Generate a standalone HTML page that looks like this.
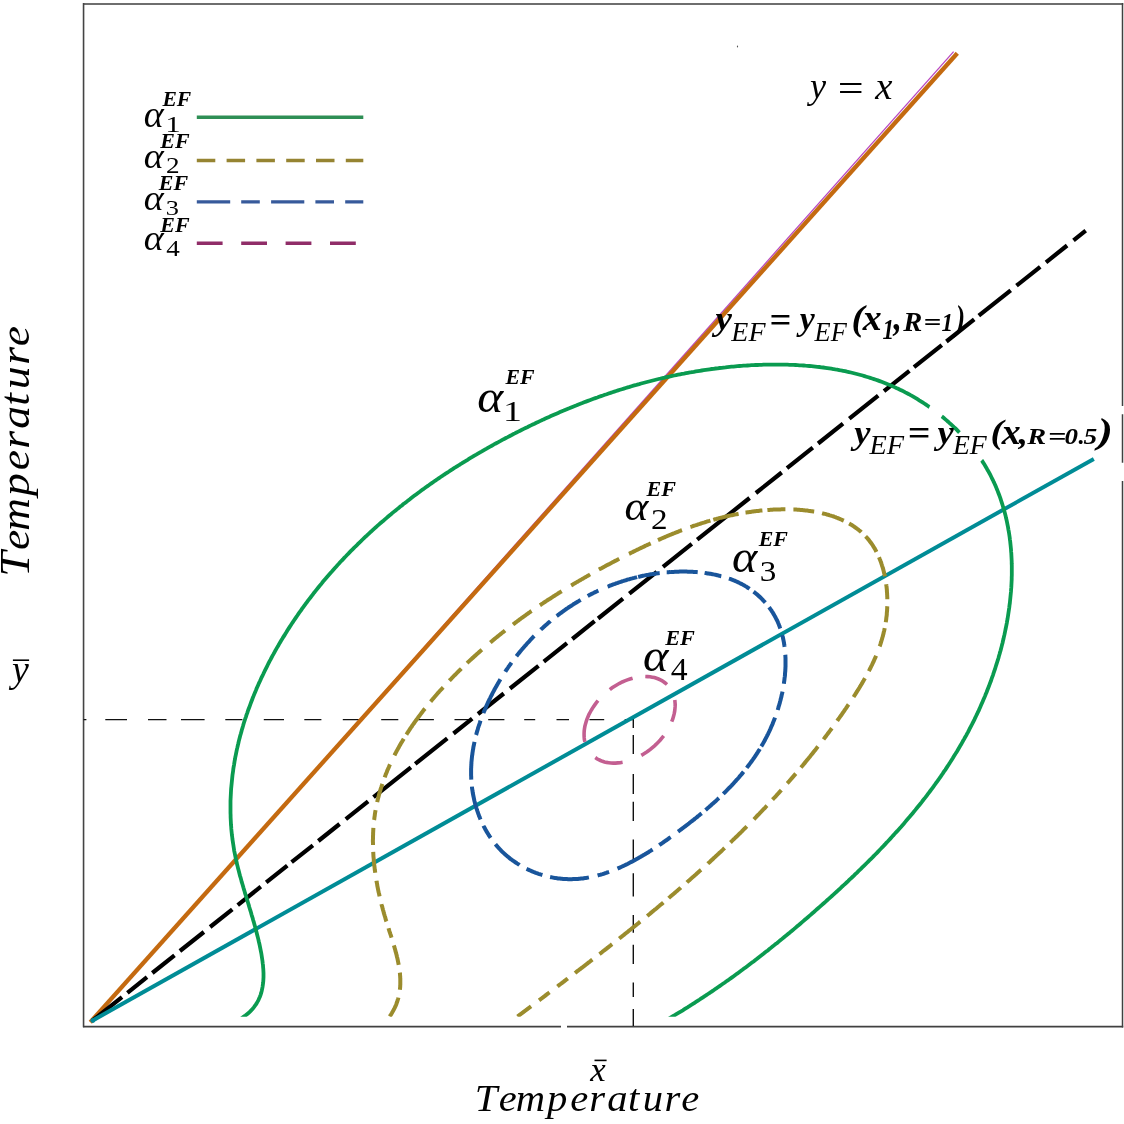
<!DOCTYPE html>
<html><head><meta charset="utf-8"><style>
html,body{margin:0;padding:0;background:#fff;width:1124px;height:1124px;overflow:hidden}
svg{position:absolute;left:0;top:0}
text{font-kerning:none}
</style></head><body>
<svg width="1124" height="1124" viewBox="0 0 1124 1124">
<defs><mask id="gmask" maskUnits="userSpaceOnUse" x="0" y="0" width="1124" height="1124"><rect width="1124" height="1124" fill="#fff"/><polygon points="931,404 944,413 940,419 928,410" fill="#000"/><polygon points="962,430 984,458 978,464 956,436" fill="#000"/></mask><clipPath id="plotclip"><rect x="84" y="5" width="1038" height="1011.7"/></clipPath></defs>
<line x1="83" y1="3.95" x2="1123.2" y2="3.95" stroke="#6e6e6e" stroke-width="1.9"/>
<line x1="83.55" y1="3" x2="83.55" y2="1027.3" stroke="#444" stroke-width="1.6"/>
<path d="M1122.5,3 V405.9 M1122.5,414.2 V462.7 M1122.5,481 V1027.4" stroke="#404040" stroke-width="1.5" fill="none"/>
<path d="M83,1026.6 H561 M567,1026.6 H1123.2" stroke="#404040" stroke-width="1.6" fill="none"/>
<ellipse cx="737.5" cy="46.5" rx="0.6" ry="1.1" fill="#555"/>
<path d="M83.5,719.6H86.4M105.3,719.6H127M148,719.6H166.5M181,719.6H204.6M225.3,719.6H242.4M263.8,719.6H284M304.3,719.6H321.4M342.8,719.6H361.3M381.2,719.6H398.3M418.2,719.6H433.9M454.5,719.6H470.9M488.2,719.6H504.4M524.2,719.6H535.2M556.5,719.6H569M589.5,719.6H604.2M624.7,719.6H634M633.3,719V728M633.3,735V754M633.3,774V794M633.3,801.7V821M633.3,839.5V862M633.3,873.3V896.5M633.3,915V932.7M633.3,944.7V964M633.3,982.4V996.9M633.3,1009V1026" stroke="#111" stroke-width="1.4" fill="none"/>
<line x1="92.3" y1="1020.7" x2="953.6" y2="51.6" stroke="#b848c0" stroke-width="1.3"/>
<line x1="90.3" y1="1022.2" x2="957.3" y2="53.3" stroke="#c46a10" stroke-width="4.3"/>
<path d="M92.3,1020.7L122.0,997.1M127.4,992.8L147.0,977.2M152.3,973.0L174.5,955.3M179.9,951.0L203.9,932.0M210.1,927.0L232.3,909.4M237.7,905.1L260.8,886.7M266.2,882.4L287.3,865.6M291.6,862.2L312.9,845.3M318.3,841.0L339.6,824.0M345.8,819.1L368.1,801.4M373.5,797.1L410.9,767.3M415.2,763.9L447.3,738.4M453.5,733.5L472.2,718.6M478.0,714.0L503.8,693.5M510.0,688.5L538.5,665.9M543.8,661.6L567.0,643.2M572.3,639.0L594.6,621.2M598.1,618.5L623.0,598.7M629.3,593.7L656.8,571.8M663.0,566.9L691.8,543.9M697.2,539.7L749.6,498.0M755.9,493.0L781.7,472.5M787.0,468.2L812.8,447.7M818.1,443.5L843.0,423.7M849.3,418.7L878.2,395.7M884.0,391.1L909.4,370.9M914.0,367.2L941.8,345.1M946.4,341.5L974.2,319.4M978.8,315.7L1010.7,290.3M1016.5,285.7L1040.2,266.9M1046.0,262.3L1067.1,245.5M1073.5,240.4L1085.7,230.7" stroke="#000" stroke-width="4.2" fill="none"/>
<line x1="92.3" y1="1020.7" x2="1093.8" y2="458.9" stroke="#008c96" stroke-width="4"/>
<circle cx="92.8" cy="1020.6" r="2.4" fill="#00899a"/>
<g clip-path="url(#plotclip)"><path d="M239.8,1019.7L243.8,1016.6L245.4,1015.5L247.0,1014.2L248.5,1013.0L250.0,1011.6L251.4,1010.2L252.7,1008.7L254.0,1007.1L255.2,1005.5L256.3,1003.9L257.3,1002.1L258.3,1000.4L259.1,998.6L259.9,996.7L260.6,994.8L261.2,992.9L261.7,991.0L262.1,989.1L262.5,987.1L262.8,985.1L263.1,983.1L263.3,981.1L263.4,979.1L263.5,977.1L263.5,975.1L263.5,973.1L263.4,971.1L263.3,969.1L263.1,967.1L263.0,965.1L262.7,963.2L262.5,961.2L262.2,959.2L261.9,957.2L261.6,955.2L261.3,953.3L260.9,951.3L260.5,949.3L260.1,947.4L259.7,945.4L259.3,943.5L258.8,941.5L258.4,939.6L257.9,937.6L257.4,935.7L256.9,933.7L256.4,931.8L255.9,929.9L255.4,927.9L254.9,926.0L254.3,924.1L253.8,922.1L253.2,920.2L252.7,918.3L252.1,916.4L251.5,914.5L251.0,912.5L250.4,910.6L249.8,908.7L249.2,906.8L248.7,904.9L248.1,903.0L247.5,901.0L246.9,899.1L246.3,897.2L245.7,895.3L245.1,893.4L244.6,891.5L244.0,889.6L243.4,887.6L242.9,885.7L242.3,883.8L241.7,881.9L241.2,879.9L240.7,878.0L240.1,876.1L239.6,874.2L239.1,872.2L238.6,870.3L238.1,868.4L237.6,866.4L237.1,864.5L236.7,862.5L236.2,860.6L235.8,858.6L235.4,856.7L235.0,854.7L234.6,852.7L234.2,850.8L233.9,848.8L233.6,846.8L233.3,844.8L233.0,842.9L232.7,840.9L232.4,838.9L232.2,836.9L231.9,834.9L231.7,832.9L231.5,830.9L231.3,828.9L231.2,826.9L231.0,825.0L230.9,823.0L230.8,821.0L230.7,819.0L230.6,817.0L230.6,815.0L230.5,813.0L230.5,811.0L230.5,809.0L230.5,807.0L230.5,805.0L230.5,803.0L230.5,800.9L230.6,798.9L230.7,796.9L230.8,794.9L230.9,793.0L231.0,791.0L231.1,789.0L231.3,787.0L231.5,785.0L231.7,783.0L231.9,781.0L232.1,779.0L232.3,777.0L232.5,775.0L232.8,773.0L233.1,771.1L233.3,769.1L233.6,767.1L234.0,765.1L234.3,763.1L234.6,761.2L235.0,759.2L235.3,757.2L235.7,755.3L236.1,753.3L236.5,751.3L236.9,749.4L237.4,747.4L237.8,745.5L238.3,743.5L238.7,741.6L239.2,739.6L239.7,737.7L240.2,735.8L240.8,733.8L241.3,731.9L241.8,730.0L242.4,728.1L243.0,726.1L243.5,724.2L244.1,722.3L244.7,720.4L245.3,718.5L246.0,716.6L246.6,714.7L247.3,712.8L247.9,710.9L248.6,709.0L249.3,707.2L250.0,705.3L250.7,703.4L251.4,701.5L252.1,699.7L252.8,697.8L253.6,695.9L254.3,694.1L255.1,692.2L255.9,690.4L256.6,688.5L257.4,686.7L258.2,684.9L259.0,683.1L259.9,681.2L260.7,679.4L261.5,677.6L262.4,675.8L263.3,674.0L264.1,672.2L265.0,670.4L265.9,668.6L266.8,666.8L267.7,665.0L268.6,663.2L269.5,661.4L270.5,659.7L271.4,657.9L272.3,656.1L273.3,654.4L274.3,652.6L275.2,650.9L276.2,649.1L277.2,647.4L278.2,645.7L279.2,643.9L280.2,642.2L281.2,640.5L282.3,638.8L283.3,637.1L284.4,635.4L285.4,633.7L286.5,632.0L287.5,630.3L288.6,628.6L289.7,626.9L290.8,625.2L291.9,623.5L293.0,621.9L294.1,620.2L295.2,618.6L296.4,616.9L297.5,615.3L298.6,613.6L299.8,612.0L301.0,610.3L302.1,608.7L303.3,607.1L304.5,605.5L305.6,603.9L306.8,602.3L308.0,600.7L309.2,599.1L310.5,597.5L311.7,595.9L312.9,594.3L314.1,592.7L315.4,591.1L316.6,589.6L317.9,588.0L319.1,586.5L320.4,584.9L321.7,583.4L322.9,581.8L324.2,580.3L325.5,578.8L326.8,577.2L328.1,575.7L329.4,574.2L330.7,572.7L332.1,571.2L333.4,569.7L334.7,568.2L336.1,566.7L337.4,565.2L338.8,563.8L340.1,562.3L341.5,560.8L342.9,559.4L344.2,557.9L345.6,556.5L347.0,555.0L348.4,553.6L349.8,552.1L351.2,550.7L352.6,549.3L354.0,547.9L355.4,546.5L356.9,545.1L358.3,543.7L359.7,542.3L361.2,540.9L362.6,539.5L364.0,538.1L365.5,536.7L367.0,535.4L368.4,534.0L369.9,532.6L371.4,531.3L372.9,529.9L374.3,528.6L375.8,527.3L377.3,525.9L378.8,524.6L380.3,523.3L381.8,522.0L383.4,520.7L384.9,519.4L386.4,518.1L387.9,516.8L389.4,515.5L391.0,514.2L392.5,512.9L394.1,511.6L395.6,510.4L397.2,509.1L398.7,507.9L400.3,506.6L401.9,505.4L403.4,504.1L405.0,502.9L406.6,501.7L408.2,500.4L409.8,499.2L411.3,498.0L412.9,496.8L414.5,495.6L416.1,494.4L417.7,493.2L419.4,492.0L421.0,490.8L422.6,489.6L424.2,488.5L425.8,487.3L427.5,486.1L429.1,485.0L430.7,483.8L432.4,482.7L434.0,481.5L435.7,480.4L437.3,479.3L439.0,478.1L440.6,477.0L442.3,475.9L443.9,474.8L445.6,473.7L447.3,472.6L449.0,471.5L450.6,470.4L452.3,469.3L454.0,468.2L455.7,467.2L457.4,466.1L459.1,465.0L460.8,464.0L462.5,462.9L464.2,461.8L465.9,460.8L467.6,459.8L469.3,458.7L471.0,457.7L472.7,456.7L474.4,455.6L476.2,454.6L477.9,453.6L479.6,452.6L481.4,451.6L483.1,450.6L484.8,449.6L486.6,448.6L488.3,447.6L490.1,446.6L491.8,445.7L493.6,444.7L495.3,443.7L497.1,442.8L498.8,441.8L500.6,440.9L502.3,439.9L504.1,439.0L505.9,438.0L507.7,437.1L509.4,436.2L511.2,435.3L513.0,434.3L514.8,433.4L516.5,432.5L518.3,431.6L520.1,430.7L521.9,429.8L523.7,428.9L525.5,428.0L527.3,427.2L529.1,426.3L530.9,425.4L532.7,424.5L534.5,423.7L536.3,422.8L538.1,422.0L539.9,421.1L541.7,420.3L543.6,419.4L545.4,418.6L547.2,417.8L549.0,417.0L550.9,416.1L552.7,415.3L554.5,414.5L556.4,413.7L558.2,412.9L560.0,412.1L561.9,411.3L563.7,410.6L565.6,409.8L567.4,409.0L569.2,408.3L571.1,407.5L573.0,406.7L574.8,406.0L576.7,405.3L578.5,404.5L580.4,403.8L582.3,403.1L584.1,402.3L586.0,401.6L587.9,400.9L589.7,400.2L591.6,399.5L593.5,398.8L595.4,398.1L597.3,397.5L599.1,396.8L601.0,396.1L602.9,395.5L604.8,394.8L606.7,394.2L608.6,393.5L610.5,392.9L612.4,392.2L614.3,391.6L616.2,391.0L618.1,390.4L620.0,389.8L621.9,389.2L623.8,388.6L625.7,388.0L627.7,387.4L629.6,386.9L631.5,386.3L633.4,385.7L635.3,385.2L637.3,384.6L639.2,384.1L641.1,383.5L643.1,383.0L645.0,382.5L646.9,382.0L648.9,381.5L650.8,381.0L652.7,380.5L654.7,380.0L656.6,379.5L658.6,379.0L660.5,378.6L662.5,378.1L664.4,377.7L666.4,377.2L668.3,376.8L670.3,376.4L672.2,375.9L674.2,375.5L676.1,375.1L678.1,374.7L680.1,374.3L682.0,373.9L684.0,373.6L686.0,373.2L687.9,372.8L689.9,372.5L691.9,372.1L693.8,371.8L695.8,371.4L697.8,371.1L699.8,370.8L701.7,370.5L703.7,370.2L705.7,369.9L707.7,369.6L709.7,369.3L711.6,369.0L713.6,368.8L715.6,368.5L717.6,368.3L719.6,368.0L721.6,367.8L723.6,367.6L725.5,367.4L727.5,367.1L729.5,366.9L731.5,366.7L733.5,366.6L735.5,366.4L737.5,366.2L739.5,366.0L741.5,365.9L743.5,365.7L745.5,365.6L747.5,365.5L749.5,365.4L751.5,365.2L753.5,365.1L755.5,365.0L757.5,365.0L759.5,364.9L761.5,364.8L763.5,364.7L765.5,364.7L767.5,364.6L769.5,364.6L771.5,364.6L773.5,364.6L775.5,364.6L777.5,364.6L779.5,364.6L781.5,364.6L783.5,364.6L785.5,364.7L787.5,364.7L789.5,364.8L791.5,364.9L793.5,364.9L795.5,365.0L797.5,365.1L799.5,365.3L801.5,365.4L803.5,365.5L805.5,365.7L807.5,365.8L809.5,366.0L811.5,366.2L813.4,366.4L815.4,366.6L817.4,366.8L819.4,367.0L821.4,367.3L823.4,367.5L825.4,367.8L827.3,368.1L829.3,368.4L831.3,368.7L833.3,369.0L835.3,369.4L837.2,369.7L839.2,370.1L841.2,370.5L843.1,370.8L845.1,371.2L847.0,371.7L849.0,372.1L850.9,372.5L852.9,373.0L854.8,373.5L856.8,374.0L858.7,374.5L860.6,375.0L862.6,375.5L864.5,376.1L866.4,376.7L868.3,377.3L870.2,377.9L872.1,378.5L874.0,379.1L875.9,379.7L877.8,380.4L879.7,381.1L881.6,381.8L883.4,382.5L885.3,383.2L887.2,384.0L889.0,384.7L890.9,385.5L892.7,386.3L894.5,387.1L896.3,388.0L898.2,388.8L900.0,389.7L901.8,390.5L903.6,391.4L905.3,392.4L907.1,393.3L908.9,394.2L910.6,395.2L912.4,396.2L914.1,397.2L915.8,398.2L917.5,399.2L919.2,400.3L920.9,401.3L922.6,402.4L924.3,403.5L926.0,404.6L927.6,405.7L929.3,406.9L930.9,408.0L932.5,409.2L934.1,410.4L935.7,411.6L937.3,412.8L938.9,414.0L940.5,415.3L942.0,416.5L943.6,417.8L945.1,419.1L946.6,420.4L948.1,421.7L949.6,423.1L951.1,424.4L952.6,425.8L954.0,427.2L955.5,428.5L956.9,429.9L958.3,431.4L959.7,432.8L961.1,434.2L962.4,435.7L963.8,437.2L965.1,438.7L966.5,440.2L967.8,441.7L969.1,443.2L970.3,444.7L971.6,446.3L972.8,447.9L974.1,449.5L975.3,451.0L976.5,452.7L977.6,454.3L978.8,455.9L979.9,457.6L981.0,459.2L982.1,460.9L983.2,462.6L984.3,464.3L985.3,466.0L986.3,467.7L987.3,469.5L988.3,471.2L989.3,473.0L990.2,474.7L991.1,476.5L992.0,478.3L992.9,480.1L993.7,481.9L994.6,483.7L995.4,485.6L996.2,487.4L996.9,489.3L997.7,491.1L998.4,493.0L999.1,494.8L999.8,496.7L1000.5,498.6L1001.1,500.5L1001.7,502.4L1002.3,504.3L1002.9,506.2L1003.5,508.1L1004.0,510.1L1004.6,512.0L1005.1,513.9L1005.6,515.9L1006.0,517.8L1006.5,519.8L1006.9,521.7L1007.3,523.7L1007.7,525.7L1008.1,527.6L1008.4,529.6L1008.8,531.6L1009.1,533.5L1009.4,535.5L1009.7,537.5L1009.9,539.5L1010.2,541.5L1010.4,543.5L1010.6,545.4L1010.8,547.4L1011.0,549.4L1011.1,551.4L1011.3,553.4L1011.4,555.4L1011.5,557.4L1011.6,559.4L1011.7,561.4L1011.7,563.4L1011.8,565.4L1011.8,567.4L1011.8,569.4L1011.8,571.4L1011.8,573.4L1011.8,575.4L1011.7,577.4L1011.7,579.4L1011.6,581.4L1011.5,583.4L1011.4,585.4L1011.3,587.4L1011.1,589.4L1011.0,591.4L1010.8,593.4L1010.6,595.4L1010.4,597.4L1010.2,599.4L1010.0,601.4L1009.8,603.4L1009.5,605.3L1009.3,607.3L1009.0,609.3L1008.7,611.3L1008.4,613.3L1008.1,615.3L1007.8,617.2L1007.5,619.2L1007.1,621.2L1006.8,623.1L1006.4,625.1L1006.0,627.1L1005.6,629.0L1005.2,631.0L1004.8,633.0L1004.4,634.9L1003.9,636.9L1003.5,638.8L1003.0,640.8L1002.6,642.7L1002.1,644.6L1001.6,646.6L1001.1,648.5L1000.6,650.5L1000.0,652.4L999.5,654.3L998.9,656.2L998.4,658.2L997.8,660.1L997.2,662.0L996.6,663.9L996.0,665.8L995.4,667.7L994.8,669.6L994.2,671.5L993.5,673.4L992.9,675.3L992.2,677.2L991.5,679.1L990.9,681.0L990.2,682.8L989.5,684.7L988.8,686.6L988.0,688.5L987.3,690.3L986.6,692.2L985.8,694.0L985.1,695.9L984.3,697.7L983.5,699.6L982.7,701.4L981.9,703.3L981.1,705.1L980.3,706.9L979.5,708.7L978.7,710.6L977.8,712.4L977.0,714.2L976.1,716.0L975.2,717.8L974.4,719.6L973.5,721.4L972.6,723.2L971.7,725.0L970.8,726.7L969.8,728.5L968.9,730.3L968.0,732.1L967.0,733.8L966.1,735.6L965.1,737.3L964.1,739.1L963.1,740.8L962.1,742.6L961.2,744.3L960.1,746.0L959.1,747.8L958.1,749.5L957.1,751.2L956.0,752.9L955.0,754.6L953.9,756.3L952.9,758.0L951.8,759.7L950.7,761.4L949.7,763.1L948.6,764.8L947.5,766.4L946.4,768.1L945.3,769.8L944.1,771.4L943.0,773.1L941.9,774.7L940.8,776.4L939.6,778.0L938.5,779.7L937.3,781.3L936.1,782.9L935.0,784.5L933.8,786.2L932.6,787.8L931.4,789.4L930.2,791.0L929.0,792.6L927.8,794.2L926.6,795.8L925.4,797.4L924.1,798.9L922.9,800.5L921.7,802.1L920.4,803.7L919.2,805.2L917.9,806.8L916.7,808.3L915.4,809.9L914.1,811.4L912.9,813.0L911.6,814.5L910.3,816.0L909.0,817.6L907.7,819.1L906.4,820.6L905.1,822.1L903.8,823.7L902.5,825.2L901.2,826.7L899.8,828.2L898.5,829.7L897.2,831.2L895.8,832.6L894.5,834.1L893.1,835.6L891.8,837.1L890.4,838.6L889.1,840.0L887.7,841.5L886.3,842.9L885.0,844.4L883.6,845.9L882.2,847.3L880.8,848.8L879.4,850.2L878.1,851.6L876.7,853.1L875.3,854.5L873.9,855.9L872.5,857.4L871.0,858.8L869.6,860.2L868.2,861.6L866.8,863.0L865.4,864.4L863.9,865.8L862.5,867.2L861.1,868.6L859.7,870.0L858.2,871.4L856.8,872.8L855.3,874.2L853.9,875.6L852.4,877.0L851.0,878.3L849.5,879.7L848.1,881.1L846.6,882.5L845.2,883.8L843.7,885.2L842.2,886.5L840.8,887.9L839.3,889.3L837.8,890.6L836.3,892.0L834.8,893.3L833.4,894.7L831.9,896.0L830.4,897.3L828.9,898.7L827.4,900.0L825.9,901.4L824.4,902.7L822.9,904.0L821.4,905.3L819.9,906.7L818.4,908.0L816.9,909.3L815.4,910.6L813.9,912.0L812.4,913.3L810.9,914.6L809.4,915.9L807.9,917.2L806.4,918.5L804.8,919.8L803.3,921.1L801.8,922.4L800.3,923.7L798.8,925.0L797.2,926.3L795.7,927.6L794.2,928.9L792.6,930.2L791.1,931.4L789.6,932.7L788.0,934.0L786.5,935.3L784.9,936.5L783.4,937.8L781.8,939.1L780.3,940.3L778.7,941.6L777.2,942.9L775.6,944.1L774.0,945.4L772.5,946.6L770.9,947.9L769.4,949.1L767.8,950.4L766.2,951.6L764.6,952.8L763.1,954.1L761.5,955.3L759.9,956.5L758.3,957.7L756.7,959.0L755.1,960.2L753.6,961.4L752.0,962.6L750.4,963.8L748.8,965.0L747.2,966.2L745.6,967.4L744.0,968.6L742.4,969.8L740.7,971.0L739.1,972.2L737.5,973.4L735.9,974.5L734.3,975.7L732.7,976.9L731.0,978.1L729.4,979.2L727.8,980.4L726.1,981.5L724.5,982.7L722.9,983.8L721.2,985.0L719.6,986.1L717.9,987.3L716.3,988.4L714.6,989.5L713.0,990.7L711.3,991.8L709.7,992.9L708.0,994.0L706.3,995.1L704.7,996.2L703.0,997.3L701.3,998.4L699.7,999.5L698.0,1000.6L696.3,1001.7L694.6,1002.8L692.9,1003.9L691.2,1005.0L689.5,1006.0L687.9,1007.1L686.2,1008.1L684.5,1009.2L682.8,1010.3L681.1,1011.3L679.3,1012.4L677.6,1013.4L675.9,1014.4L674.2,1015.5L672.5,1016.5L668.2,1019.1" fill="none" stroke="#0a9b50" stroke-width="3.8" mask="url(#gmask)"/>
<path d="M389.6,1016.5L390.2,1015.7L390.8,1014.9L391.3,1014.0L391.8,1013.2L392.3,1012.3L392.8,1011.4L393.3,1010.6L393.8,1009.7L394.2,1008.8L394.7,1007.9L395.1,1007.0L395.5,1006.1L395.9,1005.2L396.3,1004.2L396.6,1003.3L397.0,1002.3L397.3,1001.4L397.6,1000.5L397.9,999.5L398.2,998.5L398.4,997.6M399.9,989.7L400.0,988.7L400.1,987.7L400.2,986.7L400.2,985.7L400.3,984.7L400.3,983.7L400.3,982.7L400.3,981.7L400.3,980.7L400.3,979.7L400.3,978.7L400.2,977.7L400.2,976.7L400.1,975.7L400.0,974.7L400.0,973.7L399.8,972.7M398.7,964.8L398.5,963.8L398.3,962.8L398.1,961.9L397.9,960.9L397.7,959.9L397.5,958.9L397.3,958.0L397.0,957.0L396.8,956.0L396.6,955.0L396.3,954.1L396.1,953.1L395.8,952.1L395.5,951.2L395.3,950.2L395.0,949.2L394.7,948.3L394.5,947.3L394.2,946.4L393.9,945.4M391.6,937.7L391.3,936.8L391.0,935.8L390.7,934.9L390.3,933.9L390.0,933.0L389.7,932.0L389.4,931.1L389.1,930.1L388.8,929.2L388.5,928.2M386.4,921.5L386.1,920.6L385.8,919.6L385.5,918.7L385.3,917.7L385.0,916.7L384.7,915.8L384.4,914.8L384.1,913.9L383.8,912.9L383.6,911.9L383.3,911.0L383.0,910.0L382.8,909.0L382.5,908.1L382.3,907.1L382.0,906.2L381.7,905.2L381.5,904.2M379.6,896.4L379.4,895.5L379.2,894.5L379.0,893.5L378.7,892.5L378.5,891.6L378.3,890.6L378.1,889.6L377.9,888.6L377.7,887.6L377.5,886.6L377.3,885.7L377.2,884.7L377.0,883.7L376.8,882.7L376.6,881.7L376.5,880.7M375.2,872.8L375.1,871.8L375.0,870.9L374.8,869.9L374.7,868.9L374.6,867.9L374.5,866.9L374.3,865.9L374.2,864.9L374.1,863.9L374.0,862.9L373.9,861.9L373.8,860.9L373.8,859.9L373.7,858.9L373.6,857.9L373.5,856.9L373.4,855.9L373.4,854.9L373.3,853.9L373.3,852.9L373.2,851.9M373.0,844.9L373.0,843.9L373.0,842.9L372.9,841.9L372.9,840.9L372.9,839.9L373.0,838.9L373.0,837.9L373.0,836.9L373.0,835.9L373.1,834.9L373.1,833.9L373.1,832.9L373.2,831.9L373.2,830.9L373.3,829.9L373.3,828.9L373.4,827.9M374.1,820.0L374.3,819.0L374.4,818.0L374.5,817.0L374.7,816.0L374.8,815.0L374.9,814.0L375.1,813.0L375.2,812.0L375.4,811.1L375.6,810.1M377.2,802.2L377.4,801.2L377.6,800.3L377.8,799.3L378.1,798.3L378.3,797.4L378.6,796.4L378.8,795.4L379.1,794.5L379.3,793.5L379.6,792.5L379.9,791.6L380.2,790.6L380.5,789.6L380.8,788.7L381.1,787.7L381.4,786.8L381.7,785.8L382.0,784.9L382.3,783.9M384.7,777.3L385.0,776.4L385.4,775.5L385.7,774.5L386.1,773.6L386.5,772.7L386.9,771.8L387.2,770.8L387.6,769.9L388.0,769.0L388.4,768.1L388.8,767.2L389.2,766.2L389.6,765.3L390.0,764.4M394.4,755.4L394.9,754.5L395.3,753.6L395.8,752.7L396.3,751.9L396.7,751.0L397.2,750.1L397.7,749.2L398.2,748.3L398.7,747.5L399.1,746.6L399.6,745.7L400.1,744.9L400.6,744.0L401.1,743.1L401.6,742.3L402.2,741.4L402.7,740.6L403.2,739.7L403.7,738.8M406.4,734.6L406.9,733.8L407.4,732.9L408.0,732.1L408.5,731.2L409.1,730.4L409.6,729.6L410.2,728.7L410.7,727.9L411.3,727.1L411.9,726.3L412.4,725.4L413.0,724.6L413.6,723.8L414.2,723.0L414.7,722.2L415.3,721.3L415.9,720.5L416.5,719.7L417.1,718.9L417.7,718.1L418.3,717.3L418.9,716.5L419.5,715.7L420.1,714.9L420.7,714.1L421.3,713.3L421.9,712.5L422.5,711.7L423.1,710.9L423.7,710.1L424.3,709.4L425.0,708.6M430.6,701.6L431.3,700.8L431.9,700.0L432.6,699.3L433.2,698.5L433.9,697.8L434.5,697.0L435.2,696.2L435.8,695.5L436.5,694.7L437.1,694.0L437.8,693.2L438.5,692.5L439.1,691.7L439.8,691.0L440.5,690.2L441.1,689.5L441.8,688.8L442.5,688.0L443.2,687.3M449.3,680.7L450.0,680.0L450.7,679.3L451.4,678.6L452.1,677.8L452.8,677.1L453.5,676.4L454.2,675.7L454.9,675.0L455.6,674.3L456.3,673.6L457.0,672.9L457.7,672.2L458.4,671.5L459.2,670.7L459.9,670.0L460.6,669.3L461.3,668.6M467.1,663.1L467.8,662.4L468.5,661.7L469.3,661.1L470.0,660.4L470.7,659.7L471.5,659.0L472.2,658.3L473.0,657.7L473.7,657.0L474.4,656.3L475.2,655.7L475.9,655.0L476.7,654.3L477.4,653.6L478.2,653.0L478.9,652.3L479.7,651.7L480.4,651.0L481.2,650.3L481.9,649.7M490.3,642.5L491.0,641.9L491.8,641.2L492.6,640.6L493.3,640.0L494.1,639.3L494.9,638.7L495.7,638.1L496.4,637.4L497.2,636.8L498.0,636.2L498.8,635.5L499.6,634.9L500.3,634.3L501.1,633.7L501.9,633.0L502.7,632.4L503.5,631.8L504.3,631.2L505.0,630.6M513.0,624.5L513.8,623.9L514.6,623.3L515.4,622.7L516.2,622.1L517.0,621.5L517.8,620.9L518.6,620.3L519.4,619.7L520.2,619.1L521.0,618.5L521.8,617.9L522.6,617.3L523.4,616.8L524.3,616.2L525.1,615.6L525.9,615.0L526.7,614.4L527.5,613.8L528.3,613.3L529.1,612.7L530.0,612.1L530.8,611.5L531.6,611.0M539.9,605.3L540.7,604.8L541.5,604.2L542.4,603.6L543.2,603.1L544.0,602.5L544.9,602.0L545.7,601.4L546.5,600.9L547.4,600.3L548.2,599.8L549.0,599.2L549.9,598.7L550.7,598.2L551.6,597.6L552.4,597.1L553.2,596.5L554.1,596.0L554.9,595.5L555.8,594.9L556.6,594.4L557.5,593.9L558.3,593.3L559.2,592.8L560.0,592.3L560.9,591.7L561.7,591.2M571.1,585.5L572.0,585.0L572.8,584.5L573.7,583.9L574.5,583.4L575.4,582.9L576.3,582.4L577.1,581.9L578.0,581.4L578.9,580.9L579.7,580.4L580.6,579.9L581.5,579.4L582.3,578.9L583.2,578.4L584.1,577.9L584.9,577.4L585.8,576.9L586.7,576.4L587.5,575.9L588.4,575.4L589.3,574.9L590.1,574.4M598.9,569.6L599.8,569.1L600.7,568.6L601.5,568.2L602.4,567.7L603.3,567.2L604.2,566.7L605.1,566.3L605.9,565.8L606.8,565.3L607.7,564.8L608.6,564.4L609.5,563.9L610.4,563.4L611.2,563.0L612.1,562.5L613.0,562.0L613.9,561.6L614.8,561.1L615.7,560.7L616.6,560.2L617.5,559.7L618.3,559.3L619.2,558.8M629.0,553.8L629.9,553.4L630.8,552.9L631.7,552.5L632.6,552.1L633.5,551.6L634.4,551.2L635.3,550.7L636.2,550.3L637.1,549.8L638.0,549.4L638.9,549.0L639.8,548.5L640.7,548.1L641.6,547.7L642.5,547.2L643.4,546.8L644.3,546.4L645.2,545.9L646.1,545.5L647.0,545.1L647.9,544.7L648.9,544.2L649.8,543.8L650.7,543.4M658.0,540.1L658.9,539.7L659.8,539.3L660.7,538.9L661.6,538.5L662.5,538.1L663.5,537.7L664.4,537.3L665.3,536.9L666.2,536.5L667.1,536.1L668.1,535.7L669.0,535.3L669.9,535.0L670.8,534.6L671.8,534.2L672.7,533.8L673.6,533.4L674.5,533.1L675.5,532.7L676.4,532.3L677.3,532.0L678.3,531.6L679.2,531.2L680.1,530.9L681.1,530.5L682.0,530.2M690.4,527.0L691.4,526.7L692.3,526.4L693.3,526.0L694.2,525.7L695.2,525.4L696.1,525.1L697.1,524.8L698.0,524.4L699.0,524.1L699.9,523.8L700.9,523.5L701.8,523.2L702.8,522.9L703.7,522.6L704.7,522.3L705.6,522.0L706.6,521.7L707.5,521.4L708.5,521.1L709.5,520.9L710.4,520.6M713.3,519.8L714.3,519.5L715.2,519.2L716.2,519.0L717.2,518.7L718.1,518.5L719.1,518.2L720.1,517.9L721.0,517.7L722.0,517.5L723.0,517.2L724.0,517.0L724.9,516.7L725.9,516.5L726.9,516.3L727.9,516.1L728.8,515.8L729.8,515.6L730.8,515.4L731.8,515.2L732.7,515.0L733.7,514.8L734.7,514.6L735.7,514.4L736.7,514.2L737.6,514.0L738.6,513.8M745.5,512.6L746.5,512.5L747.5,512.3L748.5,512.2L749.5,512.0L750.5,511.9L751.5,511.7L752.5,511.6L753.4,511.5L754.4,511.3L755.4,511.2L756.4,511.1L757.4,511.0L758.4,510.9L759.4,510.7L760.4,510.6L761.4,510.5L762.4,510.4M767.4,510.0L768.4,509.9L769.4,509.9L770.4,509.8L771.4,509.7L772.4,509.7L773.4,509.6L774.4,509.6L775.4,509.5L776.4,509.5L777.4,509.4L778.4,509.4L779.4,509.4L780.4,509.4L781.4,509.3L782.4,509.3L783.4,509.3L784.4,509.3L785.4,509.3M793.4,509.5L794.4,509.5L795.4,509.6L796.4,509.6L797.4,509.7L798.4,509.8L799.4,509.8L800.3,509.9L801.3,510.0L802.3,510.1L803.3,510.2L804.3,510.3L805.3,510.4L806.3,510.5L807.3,510.6L808.3,510.8L809.3,510.9L810.3,511.0L811.3,511.2L812.3,511.3L813.3,511.5L814.2,511.6M822.1,513.2L823.1,513.5L824.0,513.7L825.0,513.9L826.0,514.2L826.9,514.5L827.9,514.7L828.9,515.0L829.8,515.3L830.8,515.6L831.7,515.9L832.7,516.2L833.6,516.5L834.6,516.9L835.5,517.2L836.4,517.6L837.4,517.9L838.3,518.3L839.2,518.7L840.2,519.1L841.1,519.5L842.0,519.9L842.9,520.3L843.8,520.7M849.1,523.5L850.0,524.0L850.8,524.5L851.7,525.0L852.5,525.6L853.4,526.1L854.2,526.7L855.0,527.3L855.8,527.8L856.6,528.4L857.4,529.0L858.2,529.6L859.0,530.3L859.8,530.9L860.6,531.5L861.3,532.2M865.6,536.4L866.3,537.1L867.0,537.8L867.6,538.6L868.3,539.4L868.9,540.1L869.5,540.9L870.1,541.7L870.7,542.5L871.3,543.3L871.9,544.1L872.5,545.0L873.0,545.8L873.5,546.7L874.1,547.5L874.6,548.4L875.1,549.2L875.6,550.1L876.0,551.0L876.5,551.9M879.0,557.3L879.4,558.2L879.8,559.2L880.2,560.1L880.5,561.0L880.9,562.0L881.2,562.9L881.5,563.9L881.8,564.8L882.1,565.8L882.4,566.7L882.7,567.7L883.0,568.6L883.3,569.6L883.5,570.6L883.8,571.5L884.0,572.5L884.2,573.5L884.5,574.5L884.7,575.4L884.9,576.4M886.2,584.3L886.3,585.3L886.5,586.3L886.6,587.3L886.7,588.3L886.8,589.3L886.9,590.3L886.9,591.3L887.0,592.3L887.1,593.3L887.1,594.3L887.2,595.3L887.2,596.3L887.3,597.3L887.3,598.3L887.3,599.3M887.3,606.3L887.2,607.3L887.2,608.3L887.1,609.3L887.1,610.3L887.0,611.3L886.9,612.3L886.8,613.3L886.8,614.3L886.7,615.3L886.6,616.2L886.4,617.2L886.3,618.2L886.2,619.2L886.1,620.2L885.9,621.2L885.8,622.2M884.7,628.1L884.5,629.1L884.3,630.1L884.1,631.0L883.8,632.0L883.6,633.0L883.4,634.0L883.1,634.9L882.9,635.9L882.6,636.9L882.3,637.8L882.1,638.8L881.8,639.7L881.5,640.7L881.2,641.7L880.9,642.6L880.6,643.6L880.3,644.5L880.0,645.5L879.6,646.4M876.1,655.8L875.7,656.7L875.3,657.6L874.9,658.5L874.5,659.4L874.1,660.3L873.7,661.3L873.2,662.2L872.8,663.1L872.4,664.0L872.0,664.9L871.5,665.8L871.1,666.7L870.6,667.6L870.2,668.5L869.7,669.4L869.3,670.2L868.8,671.1M865.0,678.2L864.5,679.0L864.0,679.9L863.5,680.8L863.0,681.6L862.5,682.5L862.0,683.4L861.5,684.2L861.0,685.1L860.5,685.9L859.9,686.8L859.4,687.7L858.9,688.5L858.4,689.4L857.8,690.2L857.3,691.1L856.8,691.9L856.3,692.7L855.7,693.6L855.2,694.4L854.6,695.3L854.1,696.1L853.5,697.0M848.6,704.5L848.0,705.3L847.4,706.1L846.9,706.9L846.3,707.8L845.8,708.6L845.2,709.4L844.6,710.2L844.1,711.1L843.5,711.9L842.9,712.7L842.3,713.5L841.8,714.4L841.2,715.2L840.6,716.0L840.0,716.8L839.5,717.6L838.9,718.4L838.3,719.3L837.7,720.1L837.2,720.9M831.9,728.2L831.3,729.0L830.7,729.8L830.1,730.6L829.5,731.4L828.9,732.2L828.3,733.0L827.7,733.8L827.1,734.6L826.5,735.4L825.9,736.2L825.3,737.0L824.7,737.8L824.1,738.6L823.5,739.4M818.0,746.5L817.3,747.3L816.7,748.1L816.1,748.9L815.5,749.7L814.9,750.4L814.2,751.2L813.6,752.0L813.0,752.8L812.4,753.6L811.7,754.3L811.1,755.1L810.5,755.9L809.9,756.7L809.2,757.5L808.6,758.2L808.0,759.0L807.3,759.8L806.7,760.6L806.1,761.3L805.4,762.1L804.8,762.9L804.2,763.6L803.5,764.4L802.9,765.2L802.2,766.0L801.6,766.7L800.9,767.5M795.8,773.6L795.1,774.4L794.5,775.1L793.8,775.9L793.2,776.6L792.5,777.4L791.9,778.1L791.2,778.9L790.5,779.7L789.9,780.4L789.2,781.2L788.6,781.9L787.9,782.7L787.2,783.4M781.3,790.1L780.6,790.9L779.9,791.6L779.2,792.4L778.6,793.1L777.9,793.8L777.2,794.6L776.6,795.3L775.9,796.1L775.2,796.8L774.5,797.5L773.8,798.3L773.2,799.0L772.5,799.7M767.0,805.6L766.3,806.3L765.7,807.0L765.0,807.8L764.3,808.5L763.6,809.2L762.9,809.9L762.2,810.7L761.5,811.4L760.8,812.1L760.1,812.8L759.4,813.6L758.7,814.3L758.0,815.0L757.3,815.7L756.7,816.4L756.0,817.2L755.3,817.9L754.6,818.6L753.9,819.3M746.8,826.4L746.1,827.1L745.4,827.8L744.7,828.5L744.0,829.2L743.3,829.9L742.6,830.6L741.9,831.4L741.1,832.1L740.4,832.8L739.7,833.5L739.0,834.2L738.3,834.9L737.6,835.6L736.9,836.3L736.1,837.0L735.4,837.7L734.7,838.4L734.0,839.0L733.3,839.7L732.6,840.4L731.8,841.1L731.1,841.8L730.4,842.5M724.6,848.0L723.9,848.7L723.2,849.4L722.4,850.1L721.7,850.8L721.0,851.5L720.2,852.2L719.5,852.8L718.8,853.5L718.0,854.2L717.3,854.9L716.6,855.6L715.8,856.3L715.1,856.9L714.4,857.6L713.6,858.3L712.9,859.0L712.2,859.7L711.4,860.3L710.7,861.0L710.0,861.7L709.2,862.4L708.5,863.0L707.8,863.7M701.1,869.8L700.3,870.4L699.6,871.1L698.8,871.8L698.1,872.4L697.4,873.1L696.6,873.8L695.9,874.4L695.1,875.1L694.4,875.8L693.6,876.4L692.9,877.1L692.1,877.7L691.4,878.4L690.6,879.1L689.9,879.7L689.1,880.4L688.4,881.1L687.6,881.7L686.9,882.4M680.8,887.6L680.1,888.3L679.3,888.9L678.6,889.6L677.8,890.2L677.0,890.9L676.3,891.6L675.5,892.2L674.8,892.9L674.0,893.5L673.2,894.2L672.5,894.8L671.7,895.5L671.0,896.1L670.2,896.8L669.4,897.4L668.7,898.1M663.3,902.6L662.6,903.2L661.8,903.9L661.0,904.5L660.3,905.1L659.5,905.8L658.7,906.4L658.0,907.1L657.2,907.7L656.4,908.4L655.7,909.0L654.9,909.6L654.1,910.3L653.3,910.9L652.6,911.5L651.8,912.2L651.0,912.8L650.3,913.5L649.5,914.1L648.7,914.7L647.9,915.4L647.2,916.0M640.2,921.7L639.4,922.3L638.7,923.0L637.9,923.6L637.1,924.2L636.3,924.9L635.5,925.5L634.8,926.1L634.0,926.7L633.2,927.4L632.4,928.0L631.7,928.6L630.9,929.3L630.1,929.9L629.3,930.5L628.5,931.1L627.8,931.8L627.0,932.4L626.2,933.0L625.4,933.6L624.6,934.3L623.9,934.9L623.1,935.5L622.3,936.1L621.5,936.8L620.7,937.4L619.9,938.0L619.2,938.6M612.1,944.2L611.3,944.8L610.5,945.5L609.7,946.1L609.0,946.7L608.2,947.3L607.4,947.9L606.6,948.6L605.8,949.2L605.0,949.8L604.2,950.4L603.4,951.0L602.7,951.6L601.9,952.3L601.1,952.9L600.3,953.5L599.5,954.1M592.4,959.6L591.6,960.2L590.8,960.8L590.0,961.5L589.2,962.1L588.4,962.7L587.6,963.3L586.9,963.9L586.1,964.5L585.3,965.1L584.5,965.7L583.7,966.4L582.9,967.0L582.1,967.6L581.3,968.2L580.5,968.8L579.7,969.4L578.9,970.0L578.1,970.6L577.3,971.2L576.5,971.8L575.8,972.4L575.0,973.1M567.8,978.5L567.0,979.1L566.2,979.7L565.4,980.3L564.6,980.9L563.8,981.6L563.0,982.2L562.2,982.8L561.4,983.4L560.6,984.0L559.8,984.6L559.0,985.2L558.2,985.8L557.5,986.4M549.5,992.4L548.7,993.0L547.9,993.6L547.1,994.2L546.3,994.8L545.5,995.4L544.7,996.1L543.9,996.7L543.1,997.3L542.3,997.9L541.5,998.5L540.7,999.1L539.9,999.7L539.1,1000.3M531.1,1006.3L530.3,1006.9L529.5,1007.5L528.7,1008.1L527.9,1008.7L527.1,1009.3L526.3,1009.9L525.5,1010.5L524.7,1011.1L523.9,1011.7L523.1,1012.3L522.3,1012.9L521.5,1013.5L520.7,1014.1L519.9,1014.7L519.1,1015.3L518.3,1015.9L517.5,1016.5" fill="none" stroke="#9b8c2d" stroke-width="4"/>
<path d="M483.4,713.2L483.7,712.3L484.1,711.4L484.5,710.4L484.9,709.5L485.3,708.6L485.7,707.7L486.1,706.7L486.5,705.8L486.9,704.9L487.3,704.0L487.7,703.1L488.1,702.2L488.6,701.3L489.0,700.4L489.4,699.5L489.9,698.6L490.3,697.7L490.7,696.8L491.2,695.9L491.7,695.0L492.1,694.1L492.6,693.2L493.0,692.3L493.5,691.4L494.0,690.6L494.4,689.7L494.9,688.8L495.4,687.9L495.9,687.1L496.4,686.2L496.9,685.3L497.4,684.4L497.9,683.6L498.4,682.7L498.9,681.8L499.4,681.0L499.9,680.1L500.4,679.3M505.3,671.7L505.8,670.8L506.4,670.0L506.9,669.2L507.5,668.4L508.1,667.5L508.6,666.7L509.2,665.9L509.8,665.1L510.4,664.3L510.9,663.5L511.5,662.6M516.4,656.3L517.0,655.5L517.6,654.7L518.2,653.9L518.9,653.1L519.5,652.4L520.1,651.6L520.8,650.8L521.4,650.0L522.1,649.3L522.7,648.5L523.4,647.8L524.0,647.0L524.7,646.3L525.3,645.5L526.0,644.8L526.7,644.0L527.3,643.3L528.0,642.5L528.7,641.8L529.4,641.1L530.1,640.3L530.7,639.6L531.4,638.9L532.1,638.2L532.8,637.4L533.5,636.7L534.2,636.0M540.7,629.7L541.4,629.0L542.1,628.4L542.9,627.7L543.6,627.0L544.4,626.4L545.1,625.7L545.9,625.0L546.6,624.4L547.4,623.7L548.1,623.1L548.9,622.4L549.7,621.8L550.4,621.1M556.7,616.1L557.5,615.5L558.2,614.9L559.0,614.3L559.8,613.7L560.6,613.1L561.5,612.5L562.3,611.9L563.1,611.3L563.9,610.7L564.7,610.2L565.5,609.6L566.3,609.0L567.2,608.4L568.0,607.9L568.8,607.3L569.7,606.8L570.5,606.2L571.3,605.7L572.2,605.1L573.0,604.6L573.8,604.0L574.7,603.5L575.5,603.0L576.4,602.5L577.2,601.9L578.1,601.4L579.0,600.9L579.8,600.4L580.7,599.9M587.7,596.0L588.6,595.5L589.4,595.0L590.3,594.6L591.2,594.1L592.1,593.7L593.0,593.2L593.9,592.8L594.8,592.3L595.7,591.9L596.6,591.5L597.5,591.0L598.4,590.6M607.6,586.6L608.5,586.3L609.4,585.9L610.4,585.5L611.3,585.2L612.2,584.8L613.2,584.4L614.1,584.1L615.1,583.8L616.0,583.4L616.9,583.1L617.9,582.8L618.8,582.4L619.8,582.1L620.7,581.8L621.7,581.5L622.6,581.2L623.6,580.9L624.5,580.6L625.5,580.3L626.5,580.0L627.4,579.7L628.4,579.4L629.3,579.2L630.3,578.9L631.3,578.6L632.2,578.4L633.2,578.1L634.2,577.9L635.1,577.6L636.1,577.4L637.1,577.1M638.1,576.9L639.0,576.7L640.0,576.5L641.0,576.2L642.0,576.0L642.9,575.8L643.9,575.6L644.9,575.4L645.9,575.2L646.9,575.0L647.9,574.9L648.8,574.7L649.8,574.5L650.8,574.3L651.8,574.2L652.8,574.0L653.8,573.9L654.8,573.7L655.8,573.6L656.7,573.4L657.7,573.3L658.7,573.2L659.7,573.1M666.7,572.3L667.7,572.3L668.7,572.2L669.7,572.1L670.7,572.0M670.7,572.0L671.7,572.0L672.7,571.9L673.7,571.9L674.7,571.8L675.7,571.8L676.7,571.7L677.7,571.7L678.7,571.7L679.7,571.6L680.7,571.6L681.7,571.6L682.7,571.6L683.7,571.6L684.7,571.6L685.7,571.6L686.7,571.6L687.7,571.7L688.7,571.7L689.7,571.7L690.7,571.8L691.7,571.8L692.7,571.8L693.7,571.9L694.7,572.0L695.7,572.0L696.7,572.1L697.7,572.2M704.6,572.9L705.6,573.1L706.6,573.2L707.6,573.4L708.6,573.5L709.6,573.7L710.6,573.8L711.5,574.0L712.5,574.2L713.5,574.4L714.5,574.6L715.5,574.8L716.4,575.0L717.4,575.2L718.4,575.5L719.4,575.7L720.3,576.0L721.3,576.2M728.9,578.6L729.9,578.9L730.8,579.2L731.8,579.6L732.7,580.0L733.6,580.3L734.6,580.7L735.5,581.1L736.4,581.5L737.3,581.9L738.2,582.3L739.1,582.8L740.0,583.2L740.9,583.7L741.8,584.1L742.7,584.6L743.5,585.1L744.4,585.6L745.3,586.1L746.1,586.6L747.0,587.1L747.8,587.7L748.7,588.2L749.5,588.8M753.6,591.7L754.4,592.3L755.1,592.9L755.9,593.5L756.7,594.2L757.5,594.8L758.2,595.5L758.9,596.2L759.7,596.8L760.4,597.5L761.1,598.2L761.8,598.9L762.5,599.6L763.2,600.4L763.9,601.1L764.6,601.8L765.3,602.6M769.0,607.2L769.6,608.0L770.2,608.8L770.8,609.7L771.4,610.5L771.9,611.3L772.5,612.2L773.0,613.0L773.5,613.9L774.0,614.7L774.5,615.6L775.0,616.5L775.5,617.4L775.9,618.2L776.4,619.1L776.8,620.0L777.3,620.9L777.7,621.8L778.1,622.8L778.5,623.7L778.9,624.6L779.2,625.5L779.6,626.5L779.9,627.4L780.3,628.4M782.3,635.1L782.5,636.0L782.8,637.0L783.0,638.0L783.2,639.0L783.4,639.9L783.6,640.9L783.8,641.9L784.0,642.9L784.1,643.9L784.3,644.9L784.4,645.8L784.6,646.8M785.3,654.8L785.4,655.8L785.4,656.8L785.5,657.8L785.5,658.8L785.5,659.8L785.5,660.8L785.5,661.8L785.5,662.8L785.5,663.8L785.5,664.8L785.5,665.8L785.5,666.8L785.4,667.8L785.4,668.8L785.3,669.8L785.3,670.8L785.2,671.8L785.1,672.8L785.0,673.8L785.0,674.8L784.9,675.8L784.8,676.8L784.6,677.8L784.5,678.8L784.4,679.8L784.3,680.8L784.1,681.7L784.0,682.7L783.9,683.7M782.5,691.6L782.3,692.6L782.1,693.6L781.8,694.5L781.6,695.5L781.4,696.5L781.2,697.5L780.9,698.4L780.7,699.4L780.4,700.4L780.2,701.3L779.9,702.3L779.7,703.3L779.4,704.2L779.1,705.2L778.8,706.2L778.5,707.1L778.3,708.1L778.0,709.0L777.7,710.0M775.0,717.6L774.7,718.5L774.3,719.4L774.0,720.4L773.6,721.3L773.2,722.2L772.9,723.1L772.5,724.1L772.1,725.0L771.7,725.9L771.3,726.8L770.9,727.7L770.5,728.7L770.1,729.6L769.7,730.5L769.3,731.4L768.8,732.3L768.4,733.2L768.0,734.1L767.5,735.0L767.1,735.9L766.6,736.8L766.2,737.7L765.7,738.6L765.2,739.4L764.8,740.3L764.3,741.2L763.8,742.1L763.3,743.0L762.8,743.8L762.3,744.7L761.8,745.6L761.3,746.4M759.8,749.0L759.3,749.9L758.7,750.7L758.2,751.6L757.7,752.4L757.1,753.2L756.6,754.1L756.0,754.9L755.5,755.8L754.9,756.6L754.4,757.4L753.8,758.2L753.2,759.1L752.6,759.9L752.1,760.7L751.5,761.5L750.9,762.3L750.3,763.1L749.7,763.9L749.1,764.7L748.5,765.5L747.9,766.3L747.3,767.1L746.7,767.9M743.6,771.8L742.9,772.6L742.3,773.4L741.7,774.1L741.0,774.9L740.4,775.7L739.7,776.4L739.1,777.2L738.4,778.0L737.8,778.7L737.1,779.5L736.4,780.2L735.8,780.9L735.1,781.7L734.4,782.4L733.7,783.2L733.1,783.9L732.4,784.6L731.7,785.4L731.0,786.1L730.3,786.8L729.6,787.5L728.9,788.2L728.2,789.0L727.5,789.7L726.8,790.4L726.1,791.1L725.4,791.8L724.7,792.5L724.0,793.2L723.3,793.9M718.9,798.1L718.2,798.7L717.5,799.4L716.7,800.1L716.0,800.8L715.3,801.5L714.5,802.1L713.8,802.8L713.0,803.5L712.3,804.1L711.5,804.8L710.8,805.5L710.0,806.1L709.3,806.8L708.5,807.4L707.8,808.1L707.0,808.7L706.2,809.4L705.5,810.0M701.7,813.3L700.9,813.9L700.1,814.5L699.3,815.2L698.6,815.8L697.8,816.4L697.0,817.1L696.2,817.7L695.5,818.3L694.7,818.9L693.9,819.6L693.1,820.2L692.3,820.8L691.5,821.4L690.7,822.0L690.0,822.6L689.2,823.3L688.4,823.9L687.6,824.5L686.8,825.1L686.0,825.7L685.2,826.3L684.4,826.9L683.6,827.5L682.8,828.1L682.0,828.7L681.2,829.3L680.4,829.9L679.6,830.5L678.8,831.1L678.0,831.7M670.7,837.1L669.9,837.6L669.1,838.2L668.3,838.8L667.5,839.4L666.7,840.0L665.9,840.5L665.0,841.1L664.2,841.7L663.4,842.3L662.6,842.8L661.8,843.4L660.9,844.0L660.1,844.5L659.3,845.1M652.6,849.5L651.8,850.0L650.9,850.6L650.1,851.1L649.2,851.6L648.4,852.2L647.5,852.7L646.7,853.2L645.8,853.8L645.0,854.3L644.1,854.8L643.2,855.3L642.4,855.8L641.5,856.3L640.7,856.8L639.8,857.3L638.9,857.8L638.1,858.3L637.2,858.8L636.3,859.3L635.4,859.8L634.6,860.3L633.7,860.7L632.8,861.2L631.9,861.7L631.0,862.1L630.1,862.6L629.2,863.1L628.4,863.5L627.5,864.0L626.6,864.4L625.7,864.8L624.8,865.3L623.9,865.7L623.0,866.1L622.0,866.5L621.1,867.0L620.2,867.4L619.3,867.8L618.4,868.2L617.5,868.6M609.1,871.9L608.2,872.2L607.2,872.5L606.3,872.9L605.3,873.2L604.4,873.5L603.4,873.8L602.5,874.1L601.5,874.4L600.5,874.7L599.6,874.9L598.6,875.2L597.6,875.5M588.9,877.4L587.9,877.6L586.9,877.8L585.9,877.9L584.9,878.1L583.9,878.2L582.9,878.4L581.9,878.5L580.9,878.6L579.9,878.7L578.9,878.8L578.0,878.9L577.0,879.0L576.0,879.0L575.0,879.1L574.0,879.1L573.0,879.1L572.0,879.2L571.0,879.2L570.0,879.2L569.0,879.2L568.0,879.2L567.0,879.1L566.0,879.1L565.0,879.0L564.0,879.0L563.0,878.9L562.0,878.8L561.0,878.7L560.0,878.6L559.0,878.5L558.0,878.4L557.0,878.2L556.0,878.1L555.0,877.9L554.0,877.8L553.0,877.6L552.1,877.4L551.1,877.2L550.1,877.0M542.4,875.0L541.4,874.7L540.4,874.4L539.5,874.1L538.5,873.8L537.6,873.5L536.7,873.1L535.7,872.8L534.8,872.4L533.9,872.1L532.9,871.7L532.0,871.3L531.1,870.9L530.2,870.5L529.3,870.1L528.3,869.7L527.4,869.2L526.5,868.8M519.5,865.0L518.7,864.4L517.8,863.9L517.0,863.4L516.1,862.8L515.3,862.3L514.5,861.7L513.7,861.1L512.8,860.6L512.0,860.0L511.2,859.4L510.4,858.8L509.6,858.2L508.9,857.5L508.1,856.9L507.3,856.3L506.6,855.6L505.8,855.0L505.0,854.3L504.3,853.6L503.6,852.9L502.8,852.3L502.1,851.6L501.4,850.9L500.7,850.1L500.0,849.4L499.3,848.7L498.6,848.0L498.0,847.2L497.3,846.5L496.7,845.7L496.0,844.9L495.4,844.2M490.6,837.8L490.0,836.9L489.5,836.1L488.9,835.3L488.4,834.4L487.9,833.6L487.3,832.7L486.8,831.9L486.3,831.0L485.8,830.1L485.3,829.3L484.9,828.4L484.4,827.5L483.9,826.6L483.5,825.7M480.5,819.4L480.1,818.4L479.8,817.5L479.4,816.6L479.0,815.7L478.7,814.7L478.3,813.8L478.0,812.8L477.7,811.9L477.3,810.9L477.0,810.0L476.7,809.0L476.4,808.1L476.1,807.1L475.8,806.2L475.6,805.2L475.3,804.2L475.0,803.3L474.8,802.3L474.5,801.3L474.3,800.4L474.1,799.4L473.9,798.4L473.7,797.4L473.5,796.5L473.3,795.5L473.1,794.5L472.9,793.5L472.7,792.5L472.6,791.5L472.4,790.5L472.3,789.6L472.1,788.6L472.0,787.6L471.9,786.6M471.3,779.6L471.2,778.6L471.2,777.6L471.2,776.6L471.1,775.6L471.1,774.6L471.1,773.6L471.1,772.6L471.1,771.6L471.1,770.6L471.1,769.6L471.1,768.6L471.2,767.6L471.2,766.6L471.3,765.6L471.3,764.6L471.4,763.6L471.4,762.6L471.5,761.6L471.6,760.6L471.7,759.6L471.8,758.6L471.9,757.6L472.0,756.6L472.1,755.6L472.3,754.6L472.4,753.7L472.5,752.7L472.7,751.7L472.8,750.7L473.0,749.7L473.2,748.7L473.3,747.7L473.5,746.7L473.7,745.8L473.9,744.8L474.1,743.8L474.3,742.8L474.5,741.8M476.1,735.0L476.4,734.1L476.6,733.1L476.9,732.1L477.2,731.2L477.5,730.2L477.8,729.3L478.0,728.3L478.3,727.3L478.6,726.4L478.9,725.4L479.3,724.5L479.6,723.5L479.9,722.6L480.2,721.6L480.5,720.7" fill="none" stroke="#19559b" stroke-width="4"/>
<path d="M584.9,741.9L584.4,739.8L584.2,737.7L584.1,735.5L584.1,733.2L584.2,730.9L584.5,728.6L584.9,726.2L585.5,723.9L586.2,721.5L587.0,719.1L588.0,716.7L589.0,714.4L590.3,712.0L591.6,709.7L593.0,707.4L594.6,705.1L596.2,702.9L598.0,700.7M609.8,689.6L612.1,687.8L614.6,686.2L617.1,684.7L619.6,683.3L622.2,682.0L624.8,680.9L627.4,679.9L630.0,679.0L632.6,678.2M645.3,676.5L647.7,676.6L650.0,676.8L652.2,677.2L654.4,677.6L656.5,678.3L658.5,679.0L660.4,679.9L662.2,680.8L663.9,682.0L665.5,683.2L667.0,684.5M674.8,700.0L675.0,702.2L675.2,704.5L675.1,706.9L674.9,709.3L674.6,711.7L674.1,714.2L673.4,716.7L672.7,719.2L671.7,721.7M663.7,735.8L662.0,737.9L660.3,740.0L658.4,742.0L656.5,743.9L654.5,745.8L652.4,747.6L650.3,749.4L648.1,751.0L645.9,752.6L643.6,754.0L641.3,755.4M622.6,762.3L620.2,762.7L617.8,762.9L615.5,763.1L613.2,763.1L610.9,763.0L608.7,762.7L606.6,762.4L604.5,761.9L602.5,761.3L600.5,760.5L598.7,759.7L596.9,758.7L595.3,757.6" fill="none" stroke="#c35f91" stroke-width="3.6"/></g>
<line x1="196.8" y1="117.2" x2="363.3" y2="117.2" stroke="#2e8f55" stroke-width="3.4"/>
<line x1="196.8" y1="160.5" x2="363.3" y2="160.5" stroke="#968432" stroke-width="3.4" stroke-dasharray="18.5 11.3"/>
<path d="M196.8,201.9 H230.2 M241.2,201.9 H259.8 M271.1,201.9 H304.3 M315.4,201.9 H334 M345.2,201.9 H363.3" stroke="#375a9b" stroke-width="3.4"/>
<line x1="196.8" y1="243.3" x2="356.2" y2="243.3" stroke="#902d68" stroke-width="3.4" stroke-dasharray="25.8 18.6"/>
<g opacity="0.999"><text transform="translate(143.76,126.72) scale(1.026,1)" style="font-family:'Liberation Serif',serif;font-style:italic;font-weight:normal;font-size:37.14px;">α</text><text transform="translate(165.18,131.90) scale(1.372,1)" style="font-family:'Liberation Serif',serif;font-style:normal;font-weight:normal;font-size:22.57px;">1</text><text transform="translate(162.46,106.00) scale(1.017,1)" style="font-family:'Liberation Serif',serif;font-style:italic;font-weight:bold;font-size:21.23px;">EF</text><text transform="translate(143.76,167.53) scale(1.043,1)" style="font-family:'Liberation Serif',serif;font-style:italic;font-weight:normal;font-size:36.52px;">α</text><text transform="translate(165.91,173.00) scale(1.225,1)" style="font-family:'Liberation Serif',serif;font-style:normal;font-weight:normal;font-size:22.20px;">2</text><text transform="translate(160.36,147.60) scale(1.081,1)" style="font-family:'Liberation Serif',serif;font-style:italic;font-weight:bold;font-size:20.31px;">EF</text><text transform="translate(143.76,209.53) scale(1.043,1)" style="font-family:'Liberation Serif',serif;font-style:italic;font-weight:normal;font-size:36.52px;">α</text><text transform="translate(165.84,214.79) scale(1.206,1)" style="font-family:'Liberation Serif',serif;font-style:normal;font-weight:normal;font-size:21.88px;">3</text><text transform="translate(158.76,189.90) scale(1.098,1)" style="font-family:'Liberation Serif',serif;font-style:italic;font-weight:bold;font-size:20.01px;">EF</text><text transform="translate(143.76,249.84) scale(1.074,1)" style="font-family:'Liberation Serif',serif;font-style:italic;font-weight:normal;font-size:35.48px;">α</text><text transform="translate(166.27,255.80) scale(1.189,1)" style="font-family:'Liberation Serif',serif;font-style:normal;font-weight:normal;font-size:22.79px;">4</text><text transform="translate(160.36,232.00) scale(1.058,1)" style="font-family:'Liberation Serif',serif;font-style:italic;font-weight:bold;font-size:20.77px;">EF</text><text transform="translate(477.23,412.03) scale(1.068,1)" style="font-family:'Liberation Serif',serif;font-style:italic;font-weight:normal;font-size:46.27px;">α</text><text transform="translate(502.98,421.40) scale(1.247,1)" style="font-family:'Liberation Serif',serif;font-style:normal;font-weight:normal;font-size:30.30px;">1</text><text transform="translate(505.56,384.00) scale(1.074,1)" style="font-family:'Liberation Serif',serif;font-style:italic;font-weight:bold;font-size:20.31px;">EF</text><text transform="translate(624.54,520.06) scale(1.065,1)" style="font-family:'Liberation Serif',serif;font-style:italic;font-weight:normal;font-size:42.74px;">α</text><text transform="translate(650.94,528.50) scale(1.121,1)" style="font-family:'Liberation Serif',serif;font-style:normal;font-weight:normal;font-size:29.60px;">2</text><text transform="translate(646.56,495.90) scale(1.057,1)" style="font-family:'Liberation Serif',serif;font-style:italic;font-weight:bold;font-size:20.92px;">EF</text><text transform="translate(731.97,572.42) scale(1.021,1)" style="font-family:'Liberation Serif',serif;font-style:italic;font-weight:normal;font-size:47.10px;">α</text><text transform="translate(759.81,581.10) scale(1.098,1)" style="font-family:'Liberation Serif',serif;font-style:normal;font-weight:normal;font-size:30.21px;">3</text><text transform="translate(758.76,545.90) scale(1.017,1)" style="font-family:'Liberation Serif',serif;font-style:italic;font-weight:bold;font-size:21.53px;">EF</text><text transform="translate(643.06,670.92) scale(1.038,1)" style="font-family:'Liberation Serif',serif;font-style:italic;font-weight:normal;font-size:46.69px;">α</text><text transform="translate(670.64,680.00) scale(1.084,1)" style="font-family:'Liberation Serif',serif;font-style:normal;font-weight:normal;font-size:31.15px;">4</text><text transform="translate(665.16,644.90) scale(1.109,1)" style="font-family:'Liberation Serif',serif;font-style:italic;font-weight:bold;font-size:20.01px;">EF</text><text transform="translate(810.12,98.20)" style="font-family:'Liberation Serif',serif;font-style:italic;font-weight:normal;font-size:36.16px;">y</text><text transform="translate(837.71,101.38) scale(1.223,1)" style="font-family:'Liberation Serif',serif;font-style:normal;font-weight:normal;font-size:37.60px;">=</text><text transform="translate(875.17,98.90) scale(1.029,1)" style="font-family:'Liberation Serif',serif;font-style:italic;font-weight:normal;font-size:37.69px;">x</text><text transform="translate(715.62,330.21) scale(1.084,1)" style="font-family:'Liberation Serif',serif;font-style:italic;font-weight:bold;font-size:34.23px;">y</text><text transform="translate(731.33,340.50) scale(1.052,1)" style="font-family:'Liberation Serif',serif;font-style:italic;font-weight:normal;font-size:26.57px;">EF</text><text transform="translate(769.28,332.11) scale(1.050,1)" style="font-family:'Liberation Serif',serif;font-style:italic;font-weight:bold;font-size:36.66px;">=</text><text transform="translate(799.79,330.21) scale(0.988,1)" style="font-family:'Liberation Serif',serif;font-style:italic;font-weight:bold;font-size:34.23px;">y</text><text transform="translate(814.61,340.50) scale(0.991,1)" style="font-family:'Liberation Serif',serif;font-style:italic;font-weight:normal;font-size:26.57px;">EF</text><text transform="translate(851.59,329.53) scale(1.103,1)" style="font-family:'Liberation Serif',serif;font-style:italic;font-weight:bold;font-size:35.07px;">(</text><text transform="translate(862.66,330.10) scale(1.075,1)" style="font-family:'Liberation Serif',serif;font-style:italic;font-weight:bold;font-size:35.30px;">x</text><text transform="translate(882.46,338.70) scale(0.776,1)" style="font-family:'Liberation Serif',serif;font-style:italic;font-weight:bold;font-size:29.84px;">1</text><text transform="translate(893.53,329.84) scale(0.852,1)" style="font-family:'Liberation Serif',serif;font-style:italic;font-weight:bold;font-size:39.77px;">,</text><text transform="translate(903.24,330.60) scale(1.081,1)" style="font-family:'Liberation Serif',serif;font-style:italic;font-weight:bold;font-size:26.42px;">R</text><text transform="translate(923.40,329.56) scale(1.316,1)" style="font-family:'Liberation Serif',serif;font-style:italic;font-weight:bold;font-size:23.70px;">=</text><text transform="translate(941.46,330.60) scale(0.884,1)" style="font-family:'Liberation Serif',serif;font-style:italic;font-weight:bold;font-size:26.21px;">1</text><text transform="translate(956.04,329.53) scale(0.780,1)" style="font-family:'Liberation Serif',serif;font-style:italic;font-weight:bold;font-size:35.07px;">)</text><text transform="translate(854.16,444.02) scale(1.055,1)" style="font-family:'Liberation Serif',serif;font-style:italic;font-weight:bold;font-size:34.68px;">y</text><text transform="translate(869.43,454.30) scale(1.073,1)" style="font-family:'Liberation Serif',serif;font-style:italic;font-weight:normal;font-size:26.42px;">EF</text><text transform="translate(907.49,445.40) scale(1.125,1)" style="font-family:'Liberation Serif',serif;font-style:italic;font-weight:bold;font-size:35.55px;">=</text><text transform="translate(937.56,444.02) scale(1.055,1)" style="font-family:'Liberation Serif',serif;font-style:italic;font-weight:bold;font-size:34.68px;">y</text><text transform="translate(952.92,454.30) scale(1.049,1)" style="font-family:'Liberation Serif',serif;font-style:italic;font-weight:normal;font-size:26.42px;">EF</text><text transform="translate(990.59,443.17) scale(1.124,1)" style="font-family:'Liberation Serif',serif;font-style:italic;font-weight:bold;font-size:34.41px;">(</text><text transform="translate(1001.66,444.10) scale(1.036,1)" style="font-family:'Liberation Serif',serif;font-style:italic;font-weight:bold;font-size:36.60px;">x</text><text transform="translate(1018.80,443.87) scale(1.118,1)" style="font-family:'Liberation Serif',serif;font-style:italic;font-weight:bold;font-size:33.14px;">,</text><text transform="translate(1027.24,444.10) scale(1.192,1)" style="font-family:'Liberation Serif',serif;font-style:italic;font-weight:bold;font-size:23.82px;">R</text><text transform="translate(1047.94,444.53) scale(1.263,1)" style="font-family:'Liberation Serif',serif;font-style:italic;font-weight:bold;font-size:25.55px;">=</text><text transform="translate(1064.46,443.87) scale(1.169,1)" style="font-family:'Liberation Serif',serif;font-style:italic;font-weight:bold;font-size:23.12px;">0</text><text transform="translate(1078.42,443.74) scale(0.976,1)" style="font-family:'Liberation Serif',serif;font-style:italic;font-weight:bold;font-size:25.29px;">.</text><text transform="translate(1083.59,443.87) scale(1.169,1)" style="font-family:'Liberation Serif',serif;font-style:italic;font-weight:bold;font-size:23.47px;">5</text><text transform="translate(1097.71,443.03) scale(1.302,1)" style="font-family:'Liberation Serif',serif;font-style:italic;font-weight:bold;font-size:35.07px;">)</text><text transform="translate(474.83,1111.30) scale(1.080,1)" style="font-family:'Liberation Serif',serif;font-style:italic;font-weight:normal;font-size:37.60px;">T</text><text transform="translate(498.72,1111.30) scale(1.080,1)" style="font-family:'Liberation Serif',serif;font-style:italic;font-weight:normal;font-size:37.60px;">e</text><text transform="translate(515.81,1111.30) scale(1.080,1)" style="font-family:'Liberation Serif',serif;font-style:italic;font-weight:normal;font-size:37.60px;">m</text><text transform="translate(547.10,1111.30) scale(1.080,1)" style="font-family:'Liberation Serif',serif;font-style:italic;font-weight:normal;font-size:37.60px;">p</text><text transform="translate(570.27,1111.30) scale(1.080,1)" style="font-family:'Liberation Serif',serif;font-style:italic;font-weight:normal;font-size:37.60px;">e</text><text transform="translate(589.37,1111.30) scale(1.080,1)" style="font-family:'Liberation Serif',serif;font-style:italic;font-weight:normal;font-size:37.60px;">r</text><text transform="translate(607.36,1111.30) scale(1.080,1)" style="font-family:'Liberation Serif',serif;font-style:italic;font-weight:normal;font-size:37.60px;">a</text><text transform="translate(627.96,1111.30) scale(1.080,1)" style="font-family:'Liberation Serif',serif;font-style:italic;font-weight:normal;font-size:37.60px;">t</text><text transform="translate(642.67,1111.30) scale(1.080,1)" style="font-family:'Liberation Serif',serif;font-style:italic;font-weight:normal;font-size:37.60px;">u</text><text transform="translate(664.62,1111.30) scale(1.080,1)" style="font-family:'Liberation Serif',serif;font-style:italic;font-weight:normal;font-size:37.60px;">r</text><text transform="translate(681.27,1111.30) scale(1.080,1)" style="font-family:'Liberation Serif',serif;font-style:italic;font-weight:normal;font-size:37.60px;">e</text><text transform="translate(590.22,1080.60) scale(1.023,1)" style="font-family:'Liberation Serif',serif;font-style:italic;font-weight:normal;font-size:33.99px;">x</text><line x1="594.5" y1="1060.4" x2="606.6" y2="1060.4" stroke="#000" stroke-width="1.6"/><text transform="translate(12.06,682.38) scale(1.007,1)" style="font-family:'Liberation Serif',serif;font-style:italic;font-weight:normal;font-size:37.64px;">y</text><line x1="12.9" y1="660.2" x2="29.1" y2="660.2" stroke="#000" stroke-width="1.6"/></g>
<g opacity="0.999" transform="translate(29.2,572.6) rotate(-90)"><text transform="translate(-4.18,0.00) scale(1.080,1)" style="font-family:'Liberation Serif',serif;font-style:italic;font-weight:normal;font-size:42.20px;">T</text><text transform="translate(22.52,0.00) scale(1.080,1)" style="font-family:'Liberation Serif',serif;font-style:italic;font-weight:normal;font-size:42.20px;">e</text><text transform="translate(41.57,0.00) scale(1.080,1)" style="font-family:'Liberation Serif',serif;font-style:italic;font-weight:normal;font-size:42.20px;">m</text><text transform="translate(76.55,0.00) scale(1.080,1)" style="font-family:'Liberation Serif',serif;font-style:italic;font-weight:normal;font-size:42.20px;">p</text><text transform="translate(102.41,0.00) scale(1.080,1)" style="font-family:'Liberation Serif',serif;font-style:italic;font-weight:normal;font-size:42.20px;">e</text><text transform="translate(123.73,0.00) scale(1.080,1)" style="font-family:'Liberation Serif',serif;font-style:italic;font-weight:normal;font-size:42.20px;">r</text><text transform="translate(143.81,0.00) scale(1.080,1)" style="font-family:'Liberation Serif',serif;font-style:italic;font-weight:normal;font-size:42.20px;">a</text><text transform="translate(166.83,0.00) scale(1.080,1)" style="font-family:'Liberation Serif',serif;font-style:italic;font-weight:normal;font-size:42.20px;">t</text><text transform="translate(183.24,0.00) scale(1.080,1)" style="font-family:'Liberation Serif',serif;font-style:italic;font-weight:normal;font-size:42.20px;">u</text><text transform="translate(207.75,0.00) scale(1.080,1)" style="font-family:'Liberation Serif',serif;font-style:italic;font-weight:normal;font-size:42.20px;">r</text><text transform="translate(226.34,0.00) scale(1.080,1)" style="font-family:'Liberation Serif',serif;font-style:italic;font-weight:normal;font-size:42.20px;">e</text></g>
</svg></body></html>
